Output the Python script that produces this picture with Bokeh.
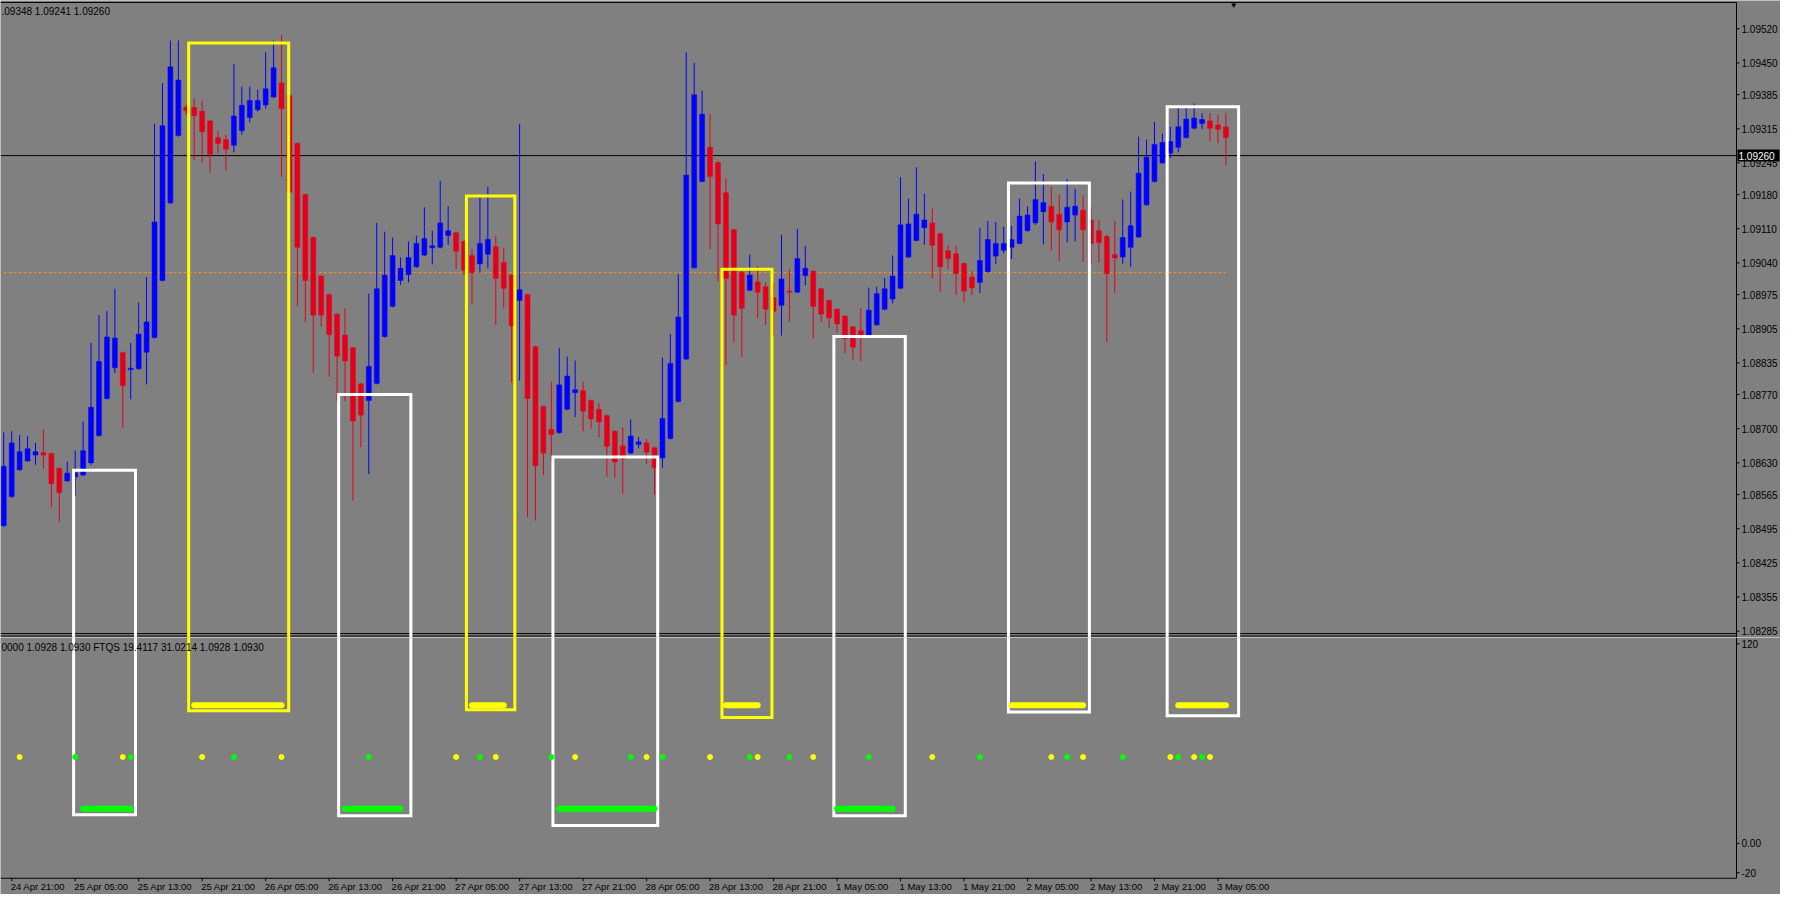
from bokeh.plotting import figure
from bokeh.models import ColumnDataSource, Range1d
from bokeh.layouts import column
from bokeh.core.properties import value
from bokeh.embed import file_html
from bokeh.resources import INLINE

# ---------------- data (H1 bars) ----------------
opens = [1.08501,1.08561,1.08616,1.08634,1.08646,1.08651,1.08649,1.08619,1.08593,1.08601,
         1.08605,1.08630,1.08686,1.08762,1.08825,1.08856,1.08821,1.08823,1.08857,1.08887,
         1.09004,1.09163,1.09301,1.09359,1.09359,1.09351,1.09331,1.09297,1.09293,1.09281,
         1.09311,1.09338,1.09354,1.09364,1.09380,1.09409,1.09383,1.09285,1.09180,1.09092,
         1.09013,1.08975,1.08935,1.08892,1.08866,1.08792,1.08758,1.08793,1.08889,1.08951,
         1.09004,1.09016,1.09032,1.09056,1.09071,1.09072,1.09096,1.09102,1.09084,1.09055,
         1.09038,1.09058,1.09073,1.09041,1.09015,1.08963,1.08975,1.08868,1.08746,1.08699,
         1.08692,1.08740,1.08774,1.08778,1.08758,1.08740,1.08727,1.08695,1.08665,1.08650,
         1.08668,1.08671,1.08661,1.08640,1.08680,1.08756,1.08843,1.09030,1.09207,1.09277,
         1.09246,1.09184,1.09108,1.09021,1.08984,1.09001,1.08991,1.08969,1.08953,1.08982,
         1.08980,1.09014,1.09023,1.08987,1.08963,1.08945,1.08931,1.08909,1.08901,1.08891,
         1.08913,1.08945,1.08966,1.08988,1.09052,1.09086,1.09112,1.09122,1.09100,1.09065,
         1.09059,1.09039,1.09011,1.09000,1.09022,1.09054,1.09066,1.09072,1.09080,1.09106,
         1.09122,1.09145,1.09156,1.09140,1.09124,1.09138,1.09148,1.09128,1.09106,1.09094,
         1.09057,1.09052,1.09072,1.09093,1.09159,1.09207,1.09245,1.09265,1.09277,1.09297,
         1.09316,1.09326,1.09331,1.09323,1.09319]
highs = [1.08693,1.08695,1.08687,1.08685,1.08671,1.08699,1.08651,1.08621,1.08633,1.08655,
         1.08715,1.08876,1.08933,1.08941,1.08987,1.08858,1.08876,1.08959,1.09011,1.09325,
         1.09409,1.09496,1.09496,1.09364,1.09377,1.09373,1.09333,1.09311,1.09303,1.09448,
         1.09401,1.09401,1.09395,1.09472,1.09496,1.09507,1.09387,1.09287,1.09182,1.09094,
         1.09015,1.08977,1.08937,1.08947,1.08868,1.08794,1.08977,1.09122,1.09104,1.09092,
         1.09051,1.09084,1.09096,1.09154,1.09106,1.09208,1.09156,1.09104,1.09086,1.09069,
         1.09174,1.09196,1.09096,1.09071,1.09017,1.09325,1.08977,1.08870,1.08748,1.08796,
         1.08866,1.08848,1.08840,1.08796,1.08760,1.08752,1.08729,1.08697,1.08703,1.08719,
         1.08683,1.08679,1.08663,1.08846,1.08894,1.09017,1.09472,1.09450,1.09393,1.09345,
         1.09248,1.09214,1.09110,1.09023,1.09057,1.09033,1.09000,1.09000,1.09098,1.09027,
         1.09110,1.09075,1.09025,1.08989,1.08965,1.08947,1.08933,1.08911,1.08947,1.08989,
         1.08991,1.09009,1.09055,1.09216,1.09172,1.09236,1.09182,1.09152,1.09102,1.09077,
         1.09075,1.09041,1.09023,1.09112,1.09126,1.09124,1.09114,1.09116,1.09172,1.09156,
         1.09248,1.09222,1.09196,1.09180,1.09212,1.09192,1.09178,1.09154,1.09128,1.09098,
         1.09126,1.09170,1.09186,1.09299,1.09293,1.09329,1.09305,1.09319,1.09357,1.09357,
         1.09367,1.09347,1.09347,1.09343,1.09348]
lows = [1.08499,1.08558,1.08614,1.08632,1.08626,1.08618,1.08539,1.08509,1.08591,1.08563,
        1.08603,1.08626,1.08684,1.08760,1.08814,1.08702,1.08760,1.08821,1.08791,1.08885,
        1.09002,1.09161,1.09299,1.09344,1.09251,1.09245,1.09225,1.09265,1.09229,1.09267,
        1.09303,1.09328,1.09350,1.09356,1.09378,1.09217,1.09131,1.08951,1.08919,1.08815,
        1.08909,1.08807,1.08757,1.08757,1.08553,1.08662,1.08607,1.08791,1.08887,1.08949,
        1.08995,1.09000,1.09030,1.09054,1.09037,1.09070,1.09077,1.09027,1.09015,1.08955,
        1.09020,1.09029,1.08913,1.08947,1.08795,1.08799,1.08519,1.08512,1.08605,1.08633,
        1.08690,1.08738,1.08724,1.08694,1.08700,1.08682,1.08601,1.08599,1.08567,1.08648,
        1.08660,1.08628,1.08565,1.08620,1.08678,1.08754,1.08841,1.09028,1.09205,1.09068,
        1.09002,1.08831,1.08877,1.08847,1.08982,1.08927,1.08913,1.08891,1.08891,1.08919,
        1.08978,1.08994,1.08885,1.08919,1.08907,1.08897,1.08855,1.08841,1.08839,1.08889,
        1.08911,1.08943,1.08957,1.08986,1.09050,1.09084,1.09077,1.09008,1.08980,1.09027,
        1.08974,1.08959,1.08974,1.08978,1.09020,1.09038,1.09060,1.09048,1.09078,1.09104,
        1.09118,1.09078,1.09066,1.09044,1.09082,1.09084,1.09042,1.09038,1.09040,1.08877,
        1.08978,1.09038,1.09032,1.09091,1.09157,1.09205,1.09243,1.09255,1.09267,1.09295,
        1.09314,1.09314,1.09289,1.09285,1.09241]
closes = [1.08623,1.08671,1.08653,1.08659,1.08653,1.08646,1.08587,1.08569,1.08609,1.08610,
          1.08655,1.08744,1.08838,1.08888,1.08886,1.08788,1.08824,1.08894,1.08919,1.09124,
          1.09321,1.09442,1.09415,1.09352,1.09342,1.09309,1.09263,1.09285,1.09273,1.09341,
          1.09363,1.09373,1.09373,1.09397,1.09440,1.09356,1.09185,1.09072,1.09004,1.08933,
          1.08933,1.08893,1.08849,1.08839,1.08716,1.08728,1.08828,1.08987,1.09015,1.09055,
          1.09029,1.09051,1.09080,1.09090,1.09075,1.09122,1.09106,1.09064,1.09025,1.09020,
          1.09080,1.09088,1.09008,1.08988,1.08911,1.08985,1.08762,1.08624,1.08650,1.08688,
          1.08790,1.08808,1.08780,1.08736,1.08720,1.08714,1.08664,1.08632,1.08638,1.08685,
          1.08673,1.08652,1.08620,1.08721,1.08834,1.08929,1.09220,1.09385,1.09345,1.09217,
          1.09120,1.09008,1.08933,1.08947,1.09015,1.08980,1.08945,1.08941,1.09007,1.08980,
          1.09049,1.09029,1.08951,1.08935,1.08927,1.08915,1.08885,1.08867,1.08891,1.08943,
          1.08977,1.08987,1.09013,1.09118,1.09120,1.09140,1.09128,1.09076,1.09032,1.09049,
          1.09018,1.08982,1.08989,1.09045,1.09088,1.09080,1.09080,1.09088,1.09136,1.09138,
          1.09170,1.09164,1.09124,1.09108,1.09154,1.09156,1.09108,1.09080,1.09082,1.09018,
          1.09050,1.09092,1.09116,1.09224,1.09257,1.09283,1.09287,1.09289,1.09319,1.09335,
          1.09337,1.09334,1.09316,1.09314,1.09297]

time_tick_bars = [1, 9, 17, 25, 33, 41, 49, 57, 65, 73, 81, 89, 97, 105, 113, 121, 129, 137, 145, 153]
time_tick_labels = ["24 Apr 21:00", "25 Apr 05:00", "25 Apr 13:00", "25 Apr 21:00", "26 Apr 05:00",
                    "26 Apr 13:00", "26 Apr 21:00", "27 Apr 05:00", "27 Apr 13:00", "27 Apr 21:00",
                    "28 Apr 05:00", "28 Apr 13:00", "28 Apr 21:00", "1 May 05:00", "1 May 13:00",
                    "1 May 21:00", "2 May 05:00", "2 May 13:00", "2 May 21:00", "3 May 05:00"]
price_tick_labels = ["1.09520", "1.09450", "1.09385", "1.09315", "1.09245", "1.09180", "1.09110",
                     "1.09040", "1.08975", "1.08905", "1.08835", "1.08770", "1.08700", "1.08630",
                     "1.08565", "1.08495", "1.08425", "1.08355", "1.08285"]
ind_tick_values = [115.5, 0, -17]
ind_tick_labels = ["120", "0.00", "-20"]

bid_price = 1.09260
level_price = 1.09020
ohlc_header = ".09348 1.09241 1.09260"
ind_header = "0000 1.0928 1.0930  FTQS 19.4117 31.0214 1.0928 1.0930"

# indicator (FTQS) signals
dot_level = 50
yellow_dot_bars = [2, 15, 25, 35, 57, 62, 72, 81, 89, 95, 102, 117, 132, 136, 147, 150, 152]
green_dot_bars = [9, 16, 29, 46, 60, 69, 79, 83, 94, 99, 109, 123, 134, 141, 148, 151]
upper_level = 80
upper_runs = [(24, 35), (59, 63), (91, 95), (127, 136), (148, 154)]
lower_level = 20
lower_runs = [(10, 16), (43, 50), (70, 82), (105, 112)]

# hand-drawn boxes: bar span, top price, bottom in indicator units
box_left = [8.8, 23.3, 42.2, 58.3, 69.2, 90.5, 104.6, 126.6, 146.6]
box_right = [16.6, 35.9, 51.3, 64.4, 82.4, 96.8, 113.6, 136.8, 155.6]
box_top = [1.08615, 1.09491, 1.08770, 1.09177, 1.08642, 1.09027, 1.08889, 1.09204, 1.09360]
box_bottom = [16.5, 76.7, 16.0, 77.3, 10.4, 72.8, 16.0, 76.1, 73.9]
box_color = ["white", "yellow", "white", "yellow", "white", "yellow", "white", "white", "white"]

# ---------------- layout / styling ----------------
BG = "#808080"
BULL = "#0000ff"
BEAR = "#e4001b"
FONT = "Liberation Sans"
PLOT_W = 1736          # candle area width in px
AX_W = 44              # price-scale strip
W = PLOT_W + AX_W
BARS_VISIBLE = 218.75
x0 = -0.41
axis_x = x0 + BARS_VISIBLE
ppb = PLOT_W / BARS_VISIBLE
x_range = Range1d(x0, x0 + W / ppb)

MAIN_H = 637
IND_H = 257
main_top_line = 1.09574
main_sep_lines = [1.08280, 1.08275]
main_range = Range1d(1.08272, 1.09578)
ind_bottom_line = -20.2
ind_range = Range1d(-29.6, 119.15)
ppu = IND_H / (ind_range.end - ind_range.start)


def base_fig(height, y_range):
    f = figure(width=W, height=height, x_range=x_range, y_range=y_range,
               output_backend="svg", toolbar_location=None,
               x_axis_location=None, y_axis_location=None,
               min_border_left=0, min_border_right=0, min_border_top=0, min_border_bottom=0,
               background_fill_color=BG, border_fill_color=BG, outline_line_color=None)
    f.grid.visible = False
    return f


def price_scale(f, ticks, labels):
    k = len(ticks)
    f.segment(x0=[axis_x] * k, x1=[axis_x + 3 / ppb] * k, y0=ticks, y1=ticks, line_color="black", line_width=1)
    f.text(x=[axis_x + 5 / ppb] * k, y=ticks, text=labels, text_font=value(FONT), text_font_size="10px",
           text_color="black", text_baseline="middle", text_align="left")


# ---------------- main price panel ----------------
main = base_fig(MAIN_H, main_range)
main.line([x0, axis_x], [main_top_line, main_top_line], line_color="black", line_width=1)
for s in main_sep_lines:
    main.line([x0, axis_x], [s, s], line_color="black", line_width=1)
main.line([axis_x, axis_x], [main_range.start, main_top_line], line_color="black", line_width=1)

main.line([x0, axis_x], [bid_price, bid_price], line_color="black", line_width=1)
main.line([0, len(opens) - 1], [level_price, level_price], line_color="#ff8c1a", line_width=1, line_dash="3 2")

n = len(opens)
xs = list(range(n))
bull = [c >= o for o, c in zip(opens, closes)]
src = ColumnDataSource(dict(
    x=xs, high=highs, low=lows,
    top=[max(o, c) for o, c in zip(opens, closes)],
    bottom=[min(o, c) for o, c in zip(opens, closes)],
    color=[BULL if b else BEAR for b in bull]))
main.segment(x0="x", y0="low", x1="x", y1="high", line_color="color", line_width=1, source=src)
main.vbar(x="x", width=0.62, top="top", bottom="bottom", fill_color="color", line_color="color",
          line_width=0.5, source=src)

far_low = main_range.start - 0.01
main.quad(left=box_left, right=box_right, top=box_top, bottom=[far_low] * len(box_top),
          fill_color=None, line_color=box_color, line_width=3, line_join="miter")

price_scale(main, [float(t) for t in price_tick_labels], price_tick_labels)
main.rect(x=[axis_x + 22 / ppb], y=[bid_price], width=[42], height=[12], width_units="screen",
          height_units="screen", fill_color="black", line_color=None)
main.text(x=[axis_x + 2 / ppb], y=[bid_price], text=["%.5f" % bid_price], text_font=value(FONT),
          text_font_size="10px", text_color="white", text_baseline="middle", text_align="left")

main.text(x=[x0], y=[main_top_line], text=[ohlc_header], x_offset=1, y_offset=4, text_font=value(FONT),
          text_font_size="10px", text_color="black", text_baseline="top", text_align="left")
main.text(x=[n], y=[main_top_line], text=["\u25bc"], text_font_size="8px", text_color="black",
          text_baseline="top", text_align="center", y_offset=-1)

# ---------------- indicator panel ----------------
ind = base_fig(IND_H, ind_range)
ind.line([x0, axis_x], [ind_bottom_line, ind_bottom_line], line_color="black", line_width=1)
ind.line([axis_x, axis_x], [ind_bottom_line, ind_range.end], line_color="black", line_width=1)

ind.quad(left=box_left, right=box_right, top=[1000] * len(box_bottom), bottom=box_bottom,
         fill_color=None, line_color=box_color, line_width=3, line_join="miter")

for a, b in upper_runs:
    ind.line([a, b], [upper_level, upper_level], line_color="#ffff00", line_width=6, line_cap="round")
for a, b in lower_runs:
    ind.line([a, b], [lower_level, lower_level], line_color="#00ff00", line_width=6, line_cap="round")
ind.scatter(yellow_dot_bars, [dot_level] * len(yellow_dot_bars), size=5, color="#ffff00")
ind.scatter(green_dot_bars, [dot_level] * len(green_dot_bars), size=5, color="#00ff00")

price_scale(ind, ind_tick_values, ind_tick_labels)
ind.text(x=[x0], y=[ind_range.end], text=[ind_header], x_offset=1, y_offset=4, text_font=value(FONT),
         text_font_size="10px", text_color="black", text_baseline="top", text_align="left")

# time scale below the indicator window
k = len(time_tick_bars)
tick_len = 3 / ppu
ind.segment(x0=time_tick_bars, x1=time_tick_bars, y0=[ind_bottom_line] * k,
            y1=[ind_bottom_line - tick_len] * k, line_color="black", line_width=1)
ind.text(x=time_tick_bars, y=[ind_bottom_line - tick_len] * k, text=time_tick_labels, x_offset=-1, y_offset=0,
         text_font=value(FONT), text_font_size="9.5px", text_color="black", text_baseline="top",
         text_align="left")

layout = column(main, ind, spacing=0)
open("out.html", "w").write(file_html(layout, INLINE))
